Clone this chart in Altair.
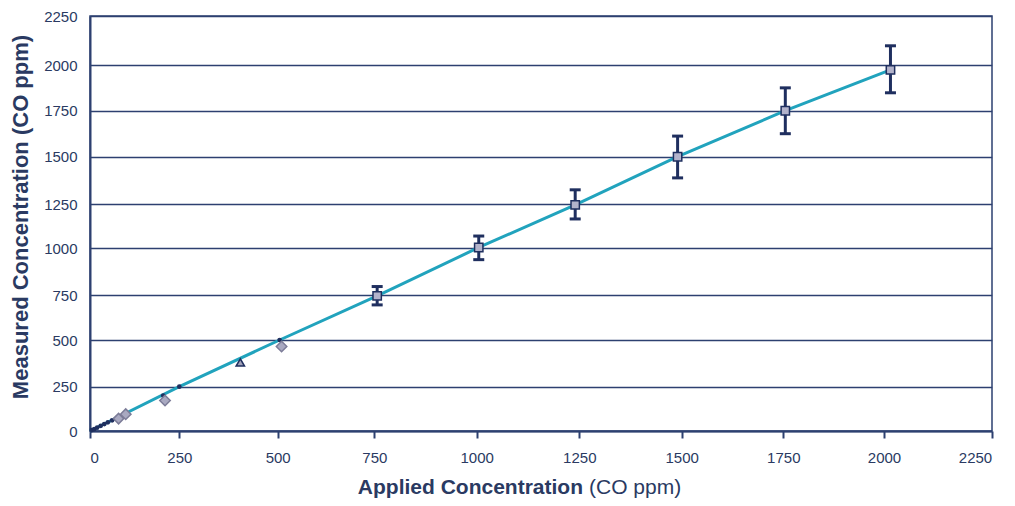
import altair as alt
import pandas as pd

# Main series (squares with error bars)
main_applied = [757, 1005, 1240, 1490, 1755, 2015]
main_measured = [745, 1003, 1245, 1500, 1750, 1973]
main_err = [50, 65, 80, 112, 125, 125]

# Low-range diamond series
dia_applied = [80, 100, 210, 510]
dia_measured = [70, 95, 172, 465]

# Triangle series
tri_applied = [405]
tri_measured = [380]

# Small dark point series
dot_applied = [5, 12, 20, 30, 40, 50, 62, 205, 250, 505]
dot_measured = [5, 11, 19, 29, 39, 49, 60, 200, 250, 500]

# Fit line
fit_applied = [0, 250, 505, 757, 1005, 1240, 1490, 1755, 2015]
fit_measured = [0, 250, 500, 745, 1003, 1245, 1500, 1750, 1973]

tick_vals = [0, 250, 500, 750, 1000, 1250, 1500, 1750, 2000, 2250]
# The printed axes are slightly uneven: piecewise positions of each tick (px)
x_tick_px = [0, 89.3, 187.7, 284.3, 386.7, 489.3, 591.7, 693.3, 794, 901.7]
y_tick_px = [415, 370.7, 324, 279, 232, 188, 140.7, 94.7, 49, 0]

NAVY = "#1f2f5f"
GRID = "#2d4070"
TEXT = "#2a3a62"
FONT = "Liberation Sans"

main_df = pd.DataFrame({"applied": main_applied, "measured": main_measured, "err": main_err})
main_df["lo"] = main_df["measured"] - main_df["err"]
main_df["hi"] = main_df["measured"] + main_df["err"]
dia_df = pd.DataFrame({"applied": dia_applied, "measured": dia_measured})
tri_df = pd.DataFrame({"applied": tri_applied, "measured": tri_measured})
dot_df = pd.DataFrame({"applied": dot_applied, "measured": dot_measured})
fit_df = pd.DataFrame({"applied": fit_applied, "measured": fit_measured})

xscale = alt.Scale(domain=tick_vals, range=x_tick_px, nice=False)
yscale = alt.Scale(domain=tick_vals, range=y_tick_px, nice=False)

xaxis = alt.Axis(values=tick_vals, format="d", title=None, grid=False, tickSize=7, tickWidth=2,
                 tickColor=GRID, domainColor=GRID, domainWidth=2,
                 labelFont=FONT, labelFontSize=15, labelColor=TEXT, labelPadding=12)
yaxis = alt.Axis(values=tick_vals, format="d", title=None, grid=True, gridColor=GRID, gridWidth=1.5,
                 gridOpacity=1, ticks=False, domainColor=GRID, domainWidth=2,
                 labelFont=FONT, labelFontSize=15, labelColor=TEXT, labelPadding=13)

X = alt.X("applied:Q", scale=xscale, axis=xaxis)
Y = alt.Y("measured:Q", scale=yscale, axis=yaxis)

fit = alt.Chart(fit_df).mark_line(color="#21a3bd", strokeWidth=3).encode(x=X, y=Y)

err_rule = alt.Chart(main_df).mark_rule(color=NAVY, strokeWidth=3).encode(
    x=alt.X("applied:Q", scale=xscale), y=alt.Y("lo:Q", scale=yscale), y2="hi:Q")
cap_lo = alt.Chart(main_df).mark_tick(color=NAVY, orient="horizontal", size=11,
                                      thickness=3, opacity=1).encode(
    x=alt.X("applied:Q", scale=xscale), y=alt.Y("lo:Q", scale=yscale))
cap_hi = alt.Chart(main_df).mark_tick(color=NAVY, orient="horizontal", size=11,
                                      thickness=3, opacity=1).encode(
    x=alt.X("applied:Q", scale=xscale), y=alt.Y("hi:Q", scale=yscale))

squares = alt.Chart(main_df).mark_point(shape="square", size=70, filled=True,
                                        fill="#b3b3cb", stroke=NAVY, strokeWidth=1.5,
                                        opacity=1).encode(x=X, y=Y)

dots = alt.Chart(dot_df).mark_point(shape="circle", size=22, filled=True,
                                    color=NAVY, opacity=1).encode(x=X, y=Y)

diamonds = alt.Chart(dia_df).mark_point(shape="diamond", size=110, filled=True,
                                        fill="#a9a9c1", stroke="#7c7c98", strokeWidth=1.5,
                                        opacity=1).encode(x=X, y=Y)

triangles = alt.Chart(tri_df).mark_point(shape="triangle-up", size=70, filled=True,
                                         fill="#a0a0b8", stroke=NAVY, strokeWidth=1.5,
                                         opacity=1).encode(x=X, y=Y)

one = pd.DataFrame({"k": [0]})
xt1 = alt.Chart(one).mark_text(font=FONT, fontSize=21, fontWeight="bold", color=TEXT,
                               align="right", baseline="middle").encode(
    x=alt.value(493), y=alt.value(472), text=alt.value("Applied Concentration"))
xt2 = alt.Chart(one).mark_text(font=FONT, fontSize=21, color=TEXT,
                               align="left", baseline="middle").encode(
    x=alt.value(499), y=alt.value(472), text=alt.value("(CO ppm)"))
yt = alt.Chart(one).mark_text(font=FONT, fontSize=22, fontWeight="bold", color=TEXT,
                              align="center", baseline="middle", angle=270).encode(
    x=alt.value(-69), y=alt.value(201), text=alt.value("Measured Concentration  (CO ppm)"))

chart = alt.layer(fit, err_rule, cap_lo, cap_hi, dots, diamonds, triangles, squares,
                  xt1, xt2, yt).properties(
    width=902, height=415,
    autosize=alt.AutoSizeParams(type="none"),
    padding={"left": 82, "top": 8, "right": 15, "bottom": 80},
    background="white",
).configure_view(stroke=GRID, strokeWidth=1.5)

chart.save("out.html", embed_options={"renderer": "svg", "actions": False})
